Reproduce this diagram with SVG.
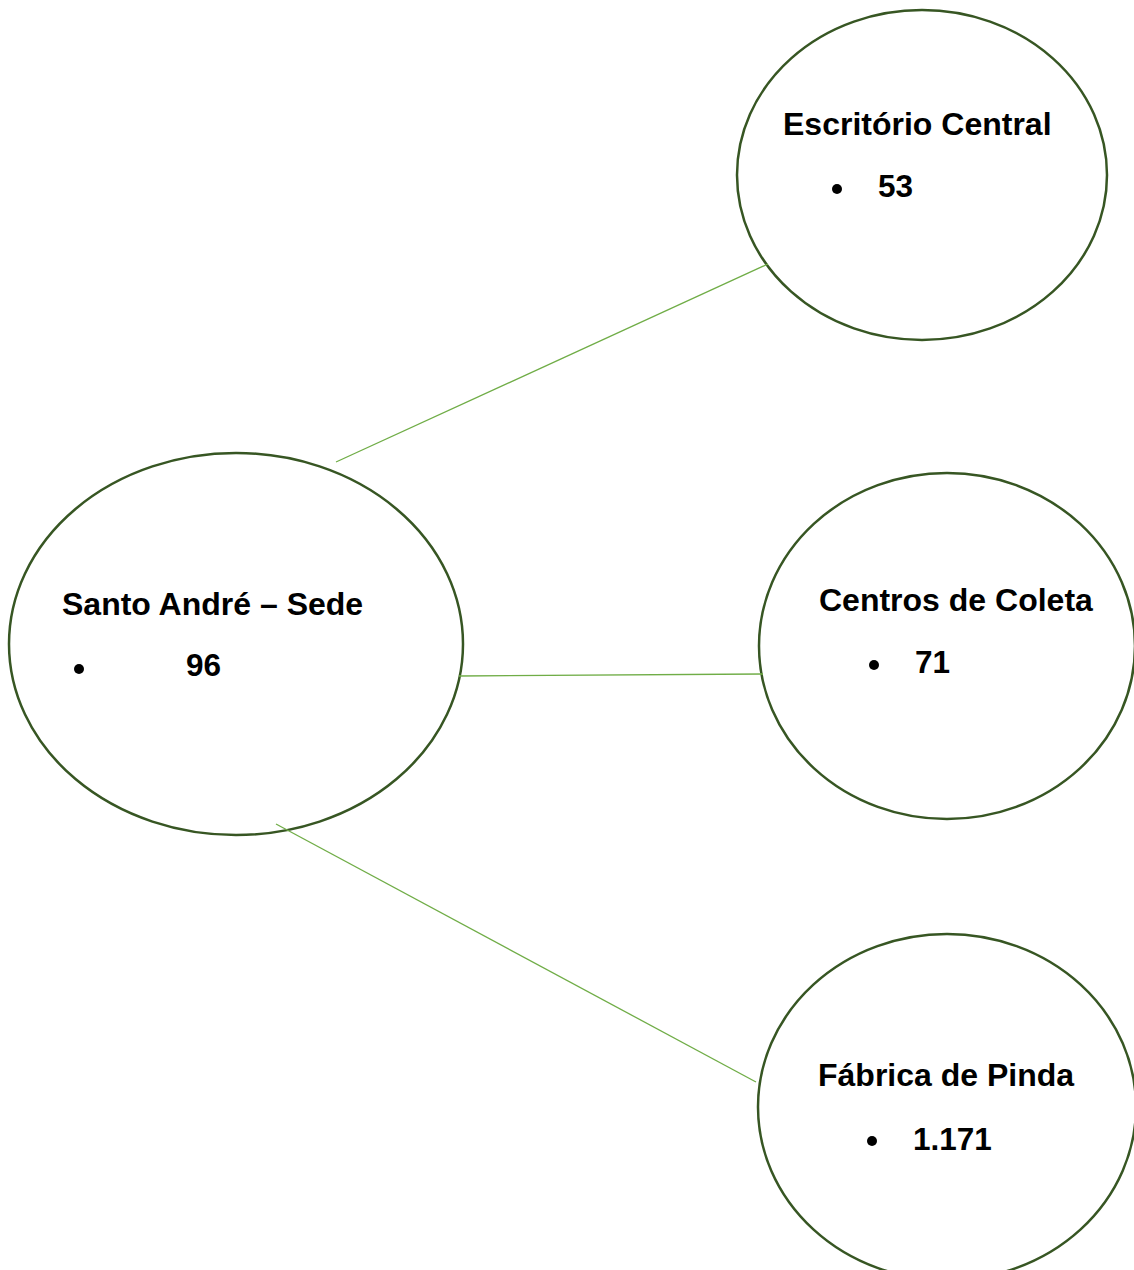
<svg xmlns="http://www.w3.org/2000/svg" width="1134" height="1270" viewBox="0 0 1134 1270">
<style>
.node{fill:#ffffff;stroke:#375623;stroke-width:2.5}
.conn{stroke:#70AD47;stroke-width:1.3;fill:none}
.t{font-family:"Liberation Sans",Arial,sans-serif;font-weight:bold;font-size:32px;fill:#000}
.n{font-family:"Liberation Sans",Arial,sans-serif;font-weight:bold;font-size:31.5px;fill:#000}
.b{fill:#000}
</style>
<rect width="1134" height="1270" fill="#ffffff"/>
<g id="node-escritorio">
<ellipse class="node" cx="922" cy="175" rx="185" ry="165"/>
<text class="t" x="783" y="135">Escritório Central</text>
<circle class="b" cx="837" cy="189" r="5"/>
<text class="n" x="878" y="197">53</text>
</g>
<g id="node-santo-andre">
<ellipse class="node" cx="236" cy="644" rx="227" ry="191"/>
<text class="t" x="62" y="615">Santo André – Sede</text>
<circle class="b" cx="79" cy="669" r="5"/>
<text class="n" x="186" y="676">96</text>
</g>
<g id="node-centros">
<ellipse class="node" cx="947" cy="646" rx="188" ry="173"/>
<text class="t" x="819" y="611">Centros de Coleta</text>
<circle class="b" cx="874" cy="665" r="5"/>
<text class="n" x="915" y="673">71</text>
</g>
<g id="node-fabrica">
<ellipse class="node" cx="947" cy="1107" rx="189" ry="173"/>
<text class="t" x="818" y="1086">Fábrica de Pinda</text>
<circle class="b" cx="872" cy="1141" r="5"/>
<text class="n" x="913" y="1150">1.171</text>
</g>
<g id="connectors">
<line class="conn" x1="336" y1="462" x2="768" y2="264"/>
<line class="conn" x1="459" y1="676" x2="763" y2="674"/>
<line class="conn" x1="276" y1="824" x2="756" y2="1082"/>
</g>
</svg>
